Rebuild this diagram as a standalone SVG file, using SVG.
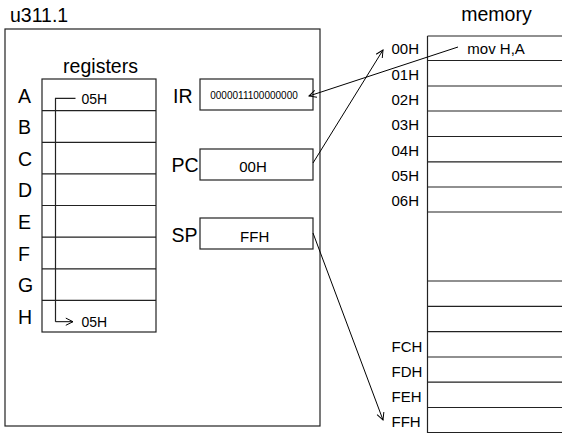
<svg xmlns="http://www.w3.org/2000/svg" width="562" height="433" viewBox="0 0 562 433">
<defs>
<style>
text{font-family:"Liberation Sans",Arial,sans-serif;fill:#000}
.big{font-size:19.5px}
.mid{font-size:15px}
.reg{font-size:14px}
.sm{font-size:10px}
.box{fill:#fff;stroke:#222;stroke-width:1.2}
.ln{stroke:#222;stroke-width:1.2;fill:none}
.con{stroke:#000;stroke-width:1;fill:none;marker-end:url(#ah)}
</style>
<marker id="ah" viewBox="0 0 10 10" refX="9" refY="5" markerWidth="9" markerHeight="9" markerUnits="userSpaceOnUse" orient="auto">
<path d="M1,1 L9,5 L1,9" fill="none" stroke="#000" stroke-width="1.1"/>
</marker>
</defs>
<rect width="562" height="433" fill="#fff"/>
<text class="big" x="10" y="21.5">u311.1</text>
<g id="cpu">
<rect class="box" x="5" y="29" width="315" height="397"/>
</g>
<g id="registers">
<text class="big" x="100.5" y="72.5" text-anchor="middle">registers</text>
<rect class="box" x="42" y="79" width="114" height="253"/>
<path class="ln" d="M42,110.6H156M42,142.3H156M42,173.9H156M42,205.5H156M42,237.1H156M42,268.8H156M42,300.4H156"/>
<g class="big">
<text x="18" y="102.5">A</text>
<text x="18" y="134.1">B</text>
<text x="18" y="165.7">C</text>
<text x="18" y="197.3">D</text>
<text x="18" y="228.9">E</text>
<text x="18" y="260.5">F</text>
<text x="18" y="292.1">G</text>
<text x="18" y="323.7">H</text>
</g>
<text class="reg" x="81.5" y="104">05H</text>
<text class="reg" x="81.5" y="326.5">05H</text>
</g>
<g id="IR">
<text class="big" x="173" y="103">IR</text>
<rect class="box" x="200" y="79" width="113" height="31"/>
<text class="sm" x="254" y="99" text-anchor="middle">0000011100000000</text>
</g>
<g id="PC">
<text class="big" x="171.5" y="171.5">PC</text>
<rect class="box" x="200" y="149" width="113" height="31"/>
<text class="mid" x="253" y="171.5" text-anchor="middle">00H</text>
</g>
<g id="SP">
<text class="big" x="171.5" y="241.5">SP</text>
<rect class="box" x="200" y="218" width="113" height="31"/>
<text class="mid" x="254.7" y="241.5" text-anchor="middle">FFH</text>
</g>
<g id="memory">
<text class="big" x="496.5" y="21" text-anchor="middle">memory</text>
<path class="ln" d="M427.5,36V433M427.5,36H562M427.5,60.5H562M427.5,86H562M427.5,111H562M427.5,136.5H562M427.5,161.8H562M427.5,187H562M427.5,212H562M427.5,281H562M427.5,306.3H562M427.5,331.7H562M427.5,357H562M427.5,382.2H562M427.5,407.5H562M427.5,432.5H562"/>
<g class="mid">
<text x="391.5" y="54.3">00H</text>
<text x="391.5" y="79.6">01H</text>
<text x="391.5" y="105">02H</text>
<text x="391.5" y="130.3">03H</text>
<text x="391.5" y="155.6">04H</text>
<text x="391.5" y="181">05H</text>
<text x="391.5" y="206.3">06H</text>
<text x="391.5" y="351.5">FCH</text>
<text x="391.5" y="376.5">FDH</text>
<text x="391.5" y="401.8">FEH</text>
<text x="391.5" y="426.8">FFH</text>
</g>
<text class="mid" x="467.3" y="54">mov H,A</text>
</g>
<g id="connectors">
<path class="ln" d="M75.5,98.3H55.5V321.7"/>
<path class="con" d="M55.5,321.7H73"/>
<path class="con" d="M458,47L309,96"/>
<path class="con" d="M313,163L383,50"/>
<path class="con" d="M313,233L383,420"/>
</g>
</svg>
